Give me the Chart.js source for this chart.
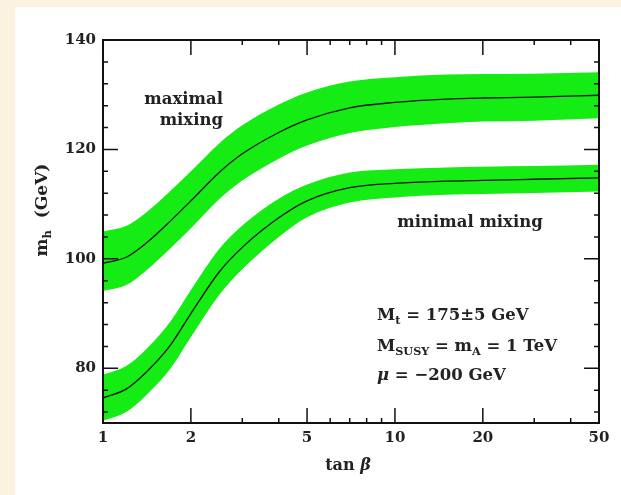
<!DOCTYPE html>
<html>
<head>
<meta charset="utf-8">
<script src="https://cdn.jsdelivr.net/npm/chart.js@4.4.0/dist/chart.umd.min.js"></script>
<style>
  html, body { margin: 0; padding: 0; }
  body { width: 621px; height: 495px; background: #fbf3df; position: relative; overflow: hidden; }
  #panel { position: absolute; left: 15px; top: 7px; width: 606px; height: 488px; background: #ffffff; }
</style>
</head>
<body>
<div id="panel"><canvas id="chart" width="606" height="488"></canvas></div>
<script>
// tan beta sample points and m_h values
var tanBeta = [1, 1.2, 1.4, 1.7, 2, 2.5, 3, 4, 5, 7, 10, 15, 20, 30, 50];

var maxCenter = [99.2, 100.3, 102.8, 106.9, 110.6, 115.8, 119.2, 123.1, 125.4, 127.6, 128.6, 129.2, 129.4, 129.55, 129.9];
var maxUpper  = [105.0, 106.0, 108.4, 112.4, 116.0, 121.1, 124.4, 128.2, 130.4, 132.4, 133.2, 133.7, 133.8, 133.85, 134.1];
var maxLower  = [94.1, 95.2, 97.8, 101.9, 105.6, 110.9, 114.3, 118.3, 120.7, 123.0, 124.1, 124.8, 125.1, 125.25, 125.7];

var minCenter = [74.6, 76.2, 79.2, 84.2, 90.0, 97.6, 102.1, 107.5, 110.6, 113.0, 113.8, 114.2, 114.35, 114.55, 114.8];
var minUpper  = [78.8, 80.4, 83.4, 88.5, 94.3, 101.8, 106.1, 111.0, 113.6, 115.8, 116.4, 116.7, 116.85, 116.95, 117.2];
var minLower  = [70.4, 72.0, 75.0, 79.9, 85.7, 93.4, 98.1, 104.0, 107.6, 110.3, 111.2, 111.7, 111.85, 112.05, 112.3];

var xTickLabels = [1, 2, 5, 10, 20, 50];
var xMinorTicks = [3, 4, 6, 7, 8, 9, 30, 40];
var yTickLabels = [80, 100, 120, 140];
var yMinorTicks = [72, 76, 84, 88, 92, 96, 104, 108, 112, 116, 124, 128, 132, 136];

var FONT = '"DejaVu Serif", serif';
var GREEN = '#14ec14';

function pts(values) {
  return tanBeta.map(function (t, i) { return { x: t, y: values[i] }; });
}

function bandEdge(values, fill) {
  return {
    data: pts(values),
    borderWidth: 0,
    pointRadius: 0,
    fill: fill,
    backgroundColor: GREEN,
    cubicInterpolationMode: 'monotone',
    order: 2
  };
}

function centerLine(values) {
  return {
    data: pts(values),
    borderColor: '#111111',
    borderWidth: 1.3,
    pointRadius: 0,
    fill: false,
    cubicInterpolationMode: 'monotone',
    order: 0
  };
}

// draws a run of text parts, some of them subscripts
function drawRich(ctx, parts, x, y, size) {
  var cx = x;
  parts.forEach(function (p) {
    var s = p.sub ? size * 0.68 : size;
    ctx.font = (p.italic ? 'italic ' : '') + 'bold ' + s + 'px ' + FONT;
    ctx.fillText(p.t, cx, y + (p.sub ? size * 0.3 : 0));
    cx += ctx.measureText(p.t).width;
  });
  return cx - x;
}

function richWidth(ctx, parts, size) {
  var w = 0;
  parts.forEach(function (p) {
    var s = p.sub ? size * 0.68 : size;
    ctx.font = (p.italic ? 'italic ' : '') + 'bold ' + s + 'px ' + FONT;
    w += ctx.measureText(p.t).width;
  });
  return w;
}

var framePlugin = {
  id: 'frame',
  afterDraw: function (chart) {
    var ctx = chart.ctx;
    var a = chart.chartArea;
    var xs = chart.scales.x;
    var ys = chart.scales.y;
    ctx.save();
    ctx.strokeStyle = '#111111';
    ctx.lineWidth = 2;
    ctx.strokeRect(a.left, a.top, a.right - a.left, a.bottom - a.top);

    ctx.lineWidth = 1.5;
    ctx.beginPath();
    function xTick(v, len) {
      var px = xs.getPixelForValue(v);
      ctx.moveTo(px, a.bottom); ctx.lineTo(px, a.bottom - len);
      ctx.moveTo(px, a.top); ctx.lineTo(px, a.top + len);
    }
    function yTick(v, len) {
      var py = ys.getPixelForValue(v);
      ctx.moveTo(a.left, py); ctx.lineTo(a.left + len, py);
      ctx.moveTo(a.right, py); ctx.lineTo(a.right - len, py);
    }
    xTickLabels.forEach(function (v) { xTick(v, 15); });
    xMinorTicks.forEach(function (v) { xTick(v, 5); });
    yTickLabels.forEach(function (v) { yTick(v, 15); });
    yMinorTicks.forEach(function (v) { yTick(v, 5); });
    ctx.stroke();

    ctx.fillStyle = '#222222';
    ctx.textBaseline = 'middle';
    ctx.textAlign = 'left';

    // axis titles (canvas is offset by 15,7 from the page)
    var xt = [{ t: 'tan ' }, { t: 'β', italic: true }];
    var tw = richWidth(ctx, xt, 16);
    drawRich(ctx, xt, 348 - 15 - tw / 2, 466 - 7, 16);

    ctx.save();
    ctx.translate(43 - 15, 210 - 7);
    ctx.rotate(-Math.PI / 2);
    var yt = [{ t: 'm' }, { t: 'h', sub: true }, { t: '  (GeV)' }];
    var yw = richWidth(ctx, yt, 17);
    drawRich(ctx, yt, -yw / 2, 0, 17);
    ctx.restore();

    // annotations
    ctx.textAlign = 'right';
    ctx.font = 'bold 16.5px ' + FONT;
    ctx.fillText('maximal', 223 - 15, 100 - 7);
    ctx.fillText('mixing', 223 - 15, 121 - 7);
    ctx.textAlign = 'left';
    var mw = ctx.measureText('minimal mixing').width;
    ctx.fillText('minimal mixing', 470 - 15 - mw / 2, 223 - 7);

    drawRich(ctx, [{ t: 'M' }, { t: 't', sub: true }, { t: ' = 175±5 GeV' }], 377 - 15, 316 - 7, 16.5);
    drawRich(ctx, [{ t: 'M' }, { t: 'SUSY', sub: true }, { t: ' = m' }, { t: 'A', sub: true }, { t: ' = 1 TeV' }], 377 - 15, 347 - 7, 16.5);
    drawRich(ctx, [{ t: 'μ', italic: true }, { t: ' = −200 GeV' }], 377 - 15, 376 - 7, 16.5);
    ctx.restore();
  }
};

new Chart(document.getElementById('chart'), {
  type: 'line',
  data: {
    datasets: [
      bandEdge(maxUpper, '+1'),
      bandEdge(maxLower, false),
      centerLine(maxCenter),
      bandEdge(minUpper, '+1'),
      bandEdge(minLower, false),
      centerLine(minCenter)
    ]
  },
  options: {
    responsive: false,
    devicePixelRatio: 1,
    animation: false,
    layout: { padding: { top: 33, right: 22, left: 0, bottom: 0 } },
    plugins: { legend: { display: false }, tooltip: { enabled: false } },
    scales: {
      x: {
        type: 'logarithmic',
        min: 1,
        max: 50,
        grid: { display: false, drawTicks: false },
        border: { display: false },
        afterBuildTicks: function (s) { s.ticks = xTickLabels.map(function (v) { return { value: v }; }); },
        afterFit: function (s) { s.height = 72; },
        ticks: {
          autoSkip: false,
          maxRotation: 0,
          padding: 6,
          color: '#222222',
          font: { family: FONT, size: 15, weight: 'bold' },
          callback: function (v) { return String(v); }
        }
      },
      y: {
        min: 70,
        max: 140,
        grid: { display: false, drawTicks: false },
        border: { display: false },
        afterBuildTicks: function (s) { s.ticks = yTickLabels.map(function (v) { return { value: v }; }); },
        afterFit: function (s) { s.width = 88; },
        ticks: {
          padding: 7,
          color: '#222222',
          font: { family: FONT, size: 15, weight: 'bold' },
          callback: function (v) { return String(v); }
        }
      }
    }
  },
  plugins: [framePlugin]
});
</script>
</body>
</html>
